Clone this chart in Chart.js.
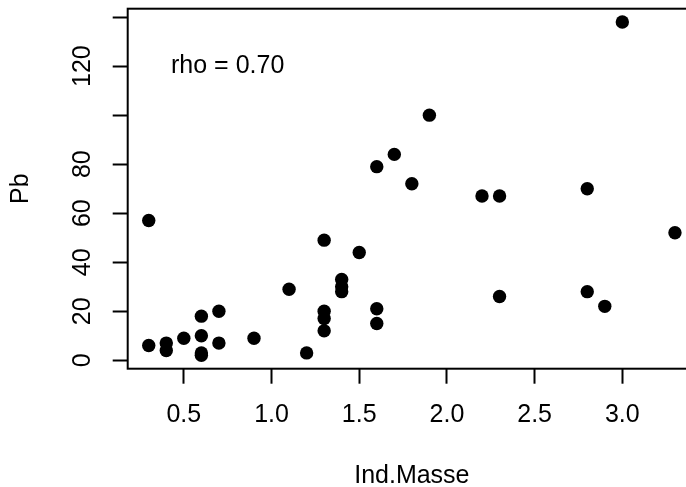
<!DOCTYPE html>
<html><head><meta charset="utf-8">
<script src="https://cdn.jsdelivr.net/npm/chart.js@4/dist/chart.umd.min.js"></script>
<style>
html,body{margin:0;padding:0;background:#fff;overflow:hidden;}
#wrap{width:686px;height:487px;overflow:hidden;position:relative;background:#fff;}
canvas{display:block;}
</style></head><body>
<div id="wrap"><canvas id="c" width="720" height="487" style="width:720px;height:487px"></canvas></div>
<script>
// ---- data ----
const indMasse = [0.3,0.3,0.4,0.4,0.5,0.6,0.6,0.6,0.6,0.7,0.7,0.9,1.1,1.2,1.3,1.3,1.3,1.3,1.4,1.4,1.4,1.5,1.6,1.6,1.6,1.7,1.8,1.9,2.2,2.3,2.3,2.8,2.8,2.9,3.0,3.3];
const pb       = [6,57,7,4,9,18,10,3,2,20,7,9,29,3,49,20,17,12,33,30,28,44,79,21,15,84,72,100,67,67,26,70,28,22,138,52];
const xTicks = [0.5,1.0,1.5,2.0,2.5,3.0];
const xTickLabels = ['0.5','1.0','1.5','2.0','2.5','3.0'];
const yTicks = [0,20,40,60,80,100,120,140];
const yTickLabels = ['0','20','40','60','80','','120',''];
const xTitle = 'Ind.Masse';
const yTitle = 'Pb';
const noteText = 'rho = 0.70';
const noteX = 0.75;
const noteY = 120;

// R-style 4% axis extension
function ext(arr){const mn=Math.min(...arr),mx=Math.max(...arr),d=(mx-mn)*0.04;return [mn-d,mx+d];}
const xr = ext(indMasse), yr = ext(pb);

const FONT = "'Liberation Sans', Arial, Helvetica, sans-serif";
const FS = 25;

const points = indMasse.map((x,i)=>({x:x,y:pb[i]}));

const boxPlugin = {
  id:'rbox',
  afterDraw(chart){
    const {ctx, chartArea:a, scales} = chart;
    ctx.save();
    ctx.strokeStyle='#000'; ctx.lineWidth=2;
    ctx.strokeRect(a.left, a.top, a.right-a.left, a.bottom-a.top);
    ctx.fillStyle='#000';
    ctx.font = FS+'px '+FONT;
    ctx.textAlign='center'; ctx.textBaseline='middle';
    ctx.fillText(noteText, scales.x.getPixelForValue(noteX), scales.y.getPixelForValue(noteY));
    ctx.restore();
  }
};

new Chart(document.getElementById('c'), {
  type:'scatter',
  data:{datasets:[{data:points, backgroundColor:'#000', borderColor:'#000', borderWidth:0, pointRadius:6.7, pointHoverRadius:6.7}]},
  plugins:[boxPlugin],
  options:{
    responsive:false, animation:false, devicePixelRatio:1,
    layout:{padding:{left:0, top:8.7, right:24, bottom:0}},
    plugins:{legend:{display:false}, tooltip:{enabled:false}},
    scales:{
      x:{
        type:'linear', min:xr[0], max:xr[1],
        afterBuildTicks:s=>{s.ticks = xTicks.map(v=>({value:v}));},
        afterFit:s=>{s.height=118.3; s.paddingLeft=0; s.paddingRight=0;},
        grid:{drawOnChartArea:false, drawTicks:true, tickLength:15, tickWidth:2, tickColor:'#000', color:'#000'},
        border:{display:false},
        ticks:{autoSkip:false, minRotation:0, maxRotation:0, padding:16.3, color:'#000', font:{family:FONT, size:FS},
               callback:(v,i)=>xTickLabels[i]},
        title:{display:true, text:xTitle, color:'#000', font:{family:FONT, size:FS}, padding:{top:0, bottom:-4.3}}
      },
      y:{
        type:'linear', min:yr[0], max:yr[1],
        afterBuildTicks:s=>{s.ticks = yTicks.map(v=>({value:v}));},
        afterFit:s=>{s.width=127.7; s.paddingTop=0; s.paddingBottom=0;},
        grid:{drawOnChartArea:false, drawTicks:true, tickLength:15, tickWidth:2, tickColor:'#000', color:'#000'},
        border:{display:false},
        ticks:{autoSkip:false, minRotation:90, maxRotation:90, crossAlign:'center', padding:8.35, color:'#000', font:{family:FONT, size:FS},
               callback:(v,i)=>yTickLabels[i]},
        title:{display:true, text:yTitle, color:'#000', font:{family:FONT, size:FS}, padding:{top:6.3, bottom:0}}
      }
    }
  }
});
</script>
</body></html>
